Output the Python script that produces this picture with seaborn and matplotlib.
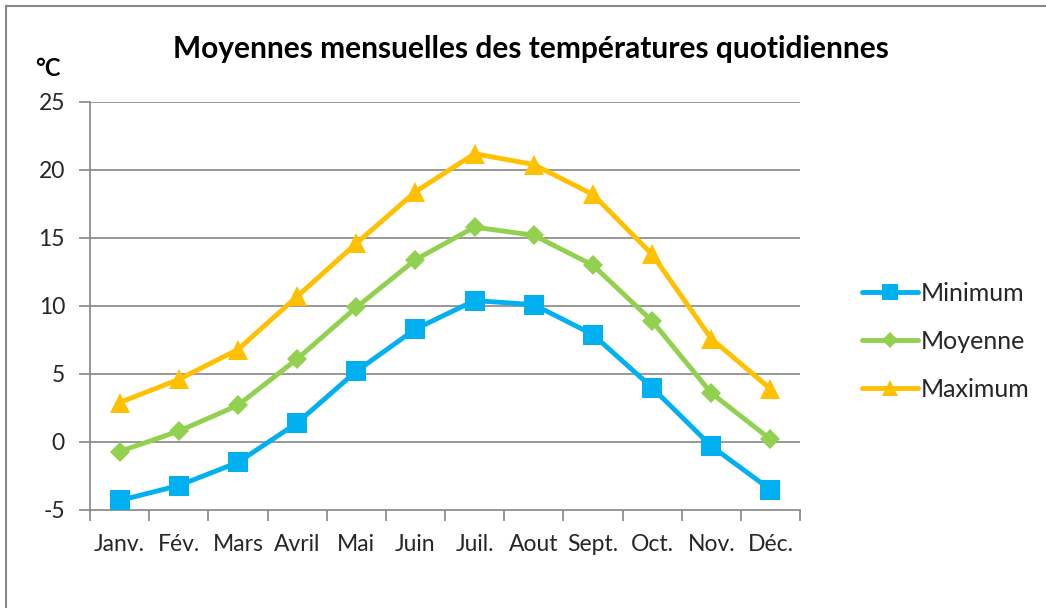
import matplotlib
matplotlib.use("Agg")
import matplotlib.pyplot as plt
from matplotlib.lines import Line2D
from matplotlib.patches import Rectangle
import seaborn as sns
import pandas as pd
import numpy as np

mois = ["Janv.", "Fév.", "Mars", "Avril", "Mai", "Juin",
        "Juil.", "Aout", "Sept.", "Oct.", "Nov.", "Déc."]
minimum = [-4.3, -3.2, -1.5, 1.4, 5.2, 8.3, 10.4, 10.1, 7.9, 4.0, -0.3, -3.5]
moyenne = [-0.7, 0.8, 2.7, 6.1, 9.9, 13.4, 15.8, 15.2, 13.0, 8.9, 3.6, 0.2]
maximum = [2.9, 4.6, 6.8, 10.7, 14.6, 18.4, 21.2, 20.4, 18.2, 13.8, 7.6, 3.9]
series = ["Minimum", "Moyenne", "Maximum"]
yticks = [-5, 0, 5, 10, 15, 20, 25]

couleurs = {"Minimum": "#00B0F0", "Moyenne": "#92D050", "Maximum": "#FFC000"}
marqueurs = {"Minimum": "s", "Moyenne": "D", "Maximum": "^"}
tailles = {"Minimum": 14, "Moyenne": 10, "Maximum": 14}

df = pd.DataFrame({
    "x": list(range(len(mois))) * 3,
    "valeur": minimum + moyenne + maximum,
    "serie": [s for s in series for _ in mois],
})

sns.set_theme(style="white")
plt.rcParams["font.family"] = ["Lato", "DejaVu Sans"]

fig = plt.figure(figsize=(10.46, 6.08), dpi=100)
ax = fig.add_axes([90 / 1046, 1 - 510 / 608, 710 / 1046, 408 / 608])

# cadre du graphique
fig.patches.append(Rectangle((6 / 1046, -0.1), 1.2, 1 - 6 / 608 + 0.1,
                             transform=fig.transFigure, fill=False,
                             edgecolor="#888888", linewidth=1.5))

for y in yticks[1:]:
    ax.axhline(y, color="#868686", linewidth=1.2, zorder=1)

for s in series:
    sub = df[df["serie"] == s]
    sns.lineplot(data=sub, x="x", y="valeur", ax=ax, color=couleurs[s],
                 marker=marqueurs[s], markersize=tailles[s],
                 markeredgewidth=0, linewidth=3.5, zorder=3, legend=False)

ax.set_xlim(-0.5, len(mois) - 0.5)
ax.set_ylim(-5, 25)
ax.set_yticks(yticks)
ax.set_yticklabels([str(v) for v in yticks])
ax.set_xticks(np.arange(-0.5, len(mois), 1.0))
ax.set_xticklabels([])
ax.set_xticks(range(len(mois)), minor=True)
ax.set_xticklabels(mois, minor=True)
ax.set_xlabel("")
ax.set_ylabel("")

for side in ["top", "right"]:
    ax.spines[side].set_visible(False)
for side in ["left", "bottom"]:
    ax.spines[side].set_color("#868686")
    ax.spines[side].set_linewidth(1.2)

ax.tick_params(axis="y", which="major", direction="out", length=8, width=1.2,
               color="#868686", labelsize=16.5, pad=10, left=True)
ax.tick_params(axis="x", which="major", direction="out", length=8, width=1.2,
               color="#868686", bottom=True)
ax.tick_params(axis="x", which="minor", length=0, labelsize=16.5, pad=17)

fig.text(531 / 1046, 1 - 49 / 608, "Moyennes mensuelles des températures quotidiennes",
         ha="center", va="center", fontsize=21.5, fontweight="bold", color="black")
fig.text(35 / 1046, 1 - 69 / 608, "°C", ha="left", va="center",
         fontsize=17, fontweight="bold", color="black")

handles = [Line2D([0], [0], color=couleurs[s], marker=marqueurs[s],
                  markersize=tailles[s] * 0.85, markeredgewidth=0, linewidth=3.5)
           for s in series]
leg = fig.legend(handles, series, loc="upper left",
                 bbox_to_anchor=(852 / 1046, 1 - 272 / 608), frameon=False,
                 fontsize=18, handlelength=2.25, handletextpad=0.1,
                 labelspacing=1.0, borderaxespad=0)

fig.savefig("out.png", dpi=100, facecolor="white")
